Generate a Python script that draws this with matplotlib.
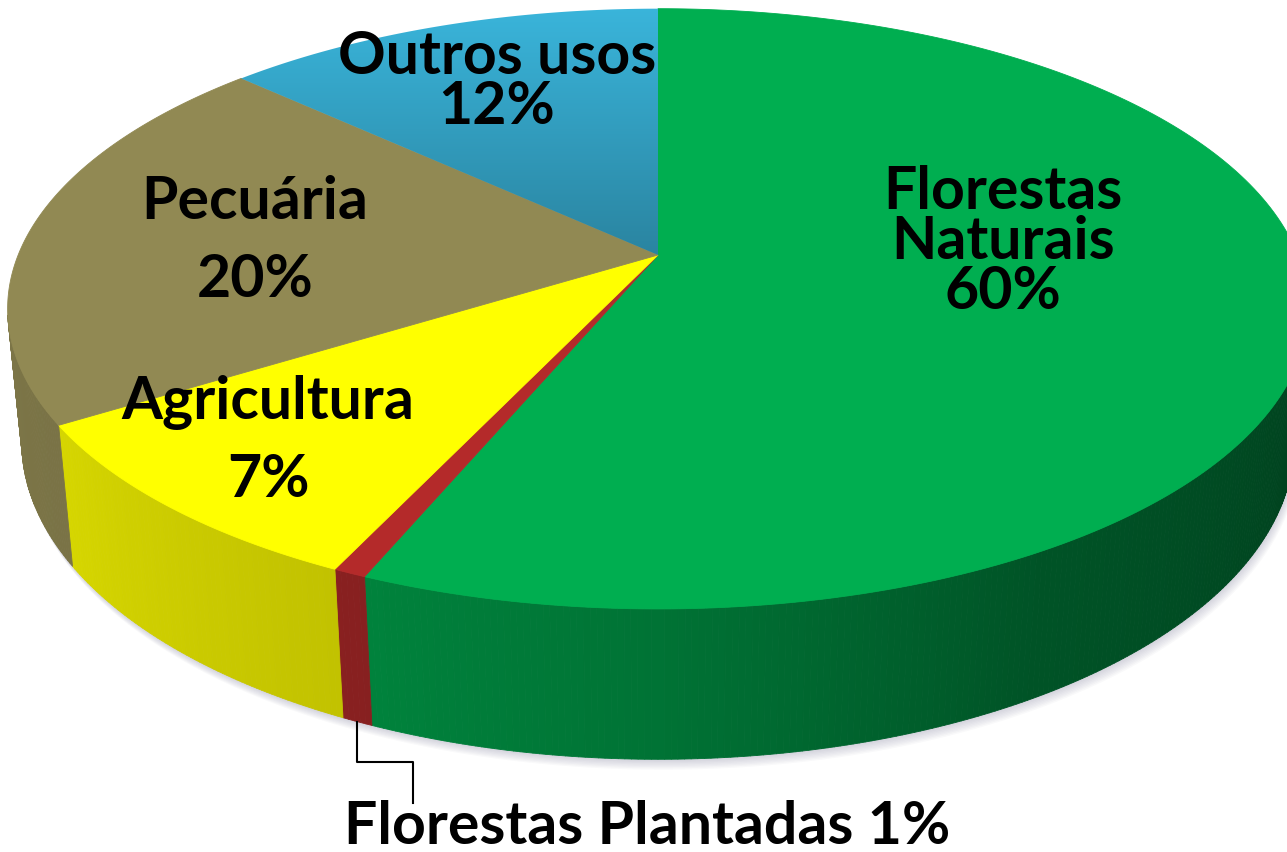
import numpy as np
import matplotlib.pyplot as plt
from matplotlib.patches import Polygon
from matplotlib.collections import PolyCollection
from matplotlib.colors import to_rgb

# dados
categorias = ['Florestas\nNaturais', 'Florestas Plantadas', 'Agricultura', 'Pecuária', 'Outros usos']
rotulos_pct = ['60%', '1%', '7%', '20%', '12%']
# tamanho das fatias como aparecem desenhadas (%)
fatias = [56.25, 0.7, 9.15, 20.85, 13.05]

cores_topo = ['#00AE50', '#B42A2A', '#FFFF00', '#918953', '#37B1D6']

# posicao dos rotulos (px): x central, baseline da 1a linha, passo entre linhas
pos_rotulos = [(1003, 209, 50), (647, 844, 0), (268, 419, 78), (255, 219, 78), (497, 74, 50)]

# camera / perspectiva
elev = np.radians(27)
dist = 4.97
escala = 3180
cx, cy = 658, 256
altura = 0.2355


def proj(theta, r=1.0, z=0.0):
    c, s = np.cos(elev), np.sin(elev)
    X = r * np.cos(theta)
    qy = r * np.sin(theta) + dist * c
    qz = z - dist * s
    prof = qy * c - qz * s
    up = qy * s + qz * c
    return cx + escala * X / prof, cy - escala * up / prof


def sombra_lado(theta_graus):
    t = np.mod(theta_graus, 360)
    return np.interp(t, [190, 212, 245, 270, 300, 350], [0.86, 0.84, 0.76, 0.66, 0.48, 0.36])


fig = plt.figure(figsize=(12.87, 8.53), dpi=100)
ax = fig.add_axes([0, 0, 1, 1])
ax.set_xlim(0, 1287)
ax.set_ylim(853, 0)
ax.axis('off')

# limites das fatias, sentido horario a partir do topo
limites = 90 - np.concatenate([[0], np.cumsum(fatias)]) * 3.6

# sombra projetada
t = np.radians(np.linspace(0, 360, 400))
bx, by = proj(t, 1, -altura)
for k in range(1, 9):
    ax.add_patch(Polygon(np.column_stack([bx + k * 0.6, by + k * 1.3]), closed=True,
                         facecolor='#8c8ca8', edgecolor='none', alpha=0.05, zorder=1))

# lateral
c_el = np.cos(elev)
for i in range(len(fatias)):
    a0, a1 = limites[i + 1], limites[i]
    ang = np.linspace(a0, a1, max(int((a1 - a0) * 2), 2) + 1)
    vis = np.sin(np.radians(ang)) < -1 / (dist * c_el) + 0.02
    polys, cols = [], []
    base = np.array(to_rgb(cores_topo[i]))
    for j in range(len(ang) - 1):
        if not (vis[j] or vis[j + 1]):
            continue
        ta, tb = np.radians(ang[j]), np.radians(ang[j + 1])
        xa, ya = proj(ta)
        xb, yb = proj(tb)
        xc, yc = proj(tb, 1, -altura)
        xd, yd = proj(ta, 1, -altura)
        polys.append([(xa, ya), (xb, yb), (xc, yc), (xd, yd)])
        cols.append(np.clip(base * sombra_lado((ang[j] + ang[j + 1]) / 2), 0, 1))
    if polys:
        ax.add_collection(PolyCollection(polys, facecolors=cols, edgecolors=cols,
                                         linewidths=0.6, zorder=2))

# topo
for i in range(len(fatias)):
    a0, a1 = limites[i + 1], limites[i]
    ang = np.radians(np.linspace(a0, a1, 200))
    px, py = proj(ang)
    pts = np.vstack([[cx, cy], np.column_stack([px, py])])
    if i == 4:
        # gradiente vertical no azul
        pol = Polygon(pts, closed=True, facecolor='none', edgecolor='none', zorder=3)
        ax.add_patch(pol)
        topo = np.array(to_rgb('#3AB5DB'))
        fundo = np.array(to_rgb('#2A84A0'))
        f = np.linspace(0, 1, 256)[:, None, None]
        grad = topo * (1 - f) + fundo * f
        grad = np.repeat(grad, 2, axis=1)
        im = ax.imshow(grad, extent=[pts[:, 0].min() - 2, pts[:, 0].max() + 2,
                                     cy + 2, pts[:, 1].min() - 2],
                       aspect='auto', zorder=3, interpolation='bilinear')
        im.set_clip_path(pol)
        ax.set_xlim(0, 1287)
        ax.set_ylim(853, 0)
    else:
        ax.add_patch(Polygon(pts, closed=True, facecolor=cores_topo[i],
                             edgecolor=cores_topo[i], linewidth=0.6, zorder=3))

# rotulos
fonte = dict(family='Lato', weight='bold', size=42.5, color='black', zorder=5)
for i, (nome, pct) in enumerate(zip(categorias, rotulos_pct)):
    x, y0, passo = pos_rotulos[i]
    if passo == 0:
        linhas = [nome + ' ' + pct]
    else:
        linhas = nome.split('\n') + [pct]
    for k, linha in enumerate(linhas):
        ax.text(x, y0 + k * passo, linha, ha='center', va='baseline', **fonte)

# linha de chamada para Florestas Plantadas
meio = np.radians((limites[1] + limites[2]) / 2)
x0, y0 = proj(meio, 1, -altura)
ax.plot([x0, x0, 413, 413], [y0, 763, 763, 804], color='black', lw=1.5, zorder=4)

plt.savefig('out.png', dpi=100)
